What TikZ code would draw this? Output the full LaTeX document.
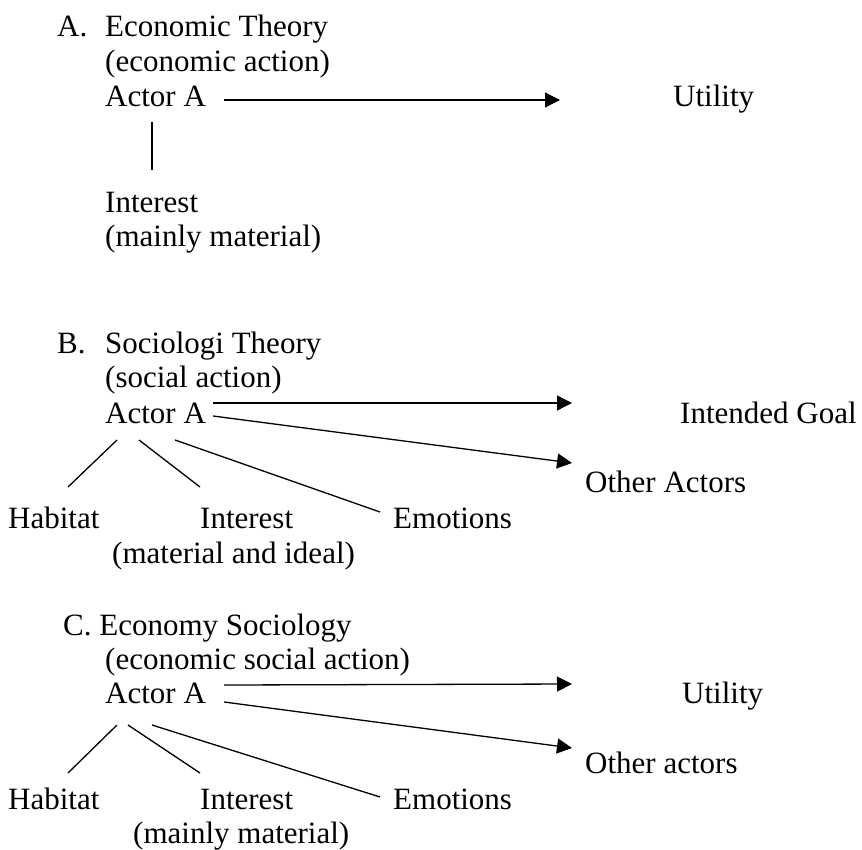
\documentclass[tikz,border=0pt]{standalone}
\usepackage{fontspec}
\setmainfont{Liberation Serif}
\usetikzlibrary{arrows.meta}
\begin{document}
\begin{tikzpicture}[x=1pt,y=-1pt,
  txt/.style={inner sep=0pt,anchor=base west,font=\fontsize{31}{36}\selectfont},
  arr/.style={line width=1.3pt,-{Triangle[length=15pt,width=15pt]}},
  ln/.style={line width=1.3pt}]
\useasboundingbox (0,0) rectangle (862,849);
% ---------- A ----------
\node[txt] (hA) at (57,36) {A.};
\node[txt] (tA) at (105,36) {Economic Theory};
\node[txt] (sA) at (105,71) {(economic action)};
\node[txt] (actA) at (105,106) {Actor A};
\node[txt] (utA) at (673,106) {Utility};
\node[txt] (intA) at (105,212) {Interest};
\node[txt] (matA) at (105,246) {(mainly material)};
\coordinate (tipA) at (560,100);
\draw[arr] ([shift={(18,-6)}]actA.base east) -- (tipA);
\draw[ln] ([shift={(47,16)}]actA.base west) -- ([shift={(47,-42)}]intA.base west);
% ---------- B ----------
\node[txt] (hB) at (57,353) {B.};
\node[txt] (tB) at (105,353) {Sociologi Theory};
\node[txt] (sB) at (105,387) {(social action)};
\node[txt] (actB) at (105,423) {Actor A};
\node[txt] (goalB) at (680,423) {Intended Goal};
\node[txt] (othB) at (585,492) {Other Actors};
\node[txt] (habB) at (8,528) {Habitat};
\node[txt] (intB) at (200,528) {Interest};
\node[txt] (emoB) at (393,528) {Emotions};
\node[txt] (matB) at (112,563) {(material and ideal)};
\coordinate (tipB1) at (572,403);
\coordinate (tipB2) at (572,463);
\draw[arr] ([shift={(7,-20)}]actB.base east) -- (tipB1);
\draw[arr] ([shift={(7,-7)}]actB.base east) -- (tipB2);
\draw[ln] ([shift={(12,17)}]actB.base west) -- ([shift={(60,-41)}]habB.base west);
\draw[ln] ([shift={(34,17)}]actB.base west) -- ([shift={(0,-41)}]intB.base west);
\draw[ln] ([shift={(70,17)}]actB.base west) -- ([shift={(-13,-16)}]emoB.base west);
% ---------- C ----------
\node[txt] (hC) at (63,635) {C. Economy Sociology};
\node[txt] (sC) at (105,669) {(economic social action)};
\node[txt] (actC) at (105,703) {Actor A};
\node[txt] (utC) at (682,703) {Utility};
\node[txt] (othC) at (585,773) {Other actors};
\node[txt] (habC) at (8,809) {Habitat};
\node[txt] (intC) at (200,809) {Interest};
\node[txt] (emoC) at (393,809) {Emotions};
\node[txt] (matC) at (133,843) {(mainly material)};
\coordinate (tipC1) at (572,684);
\coordinate (tipC2) at (572,748);
\draw[arr] ([shift={(18,-18)}]actC.base east) -- (tipC1);
\draw[arr] ([shift={(18,-1)}]actC.base east) -- (tipC2);
\draw[ln] ([shift={(12,22)}]actC.base west) -- ([shift={(60,-36)}]habC.base west);
\draw[ln] ([shift={(23,22)}]actC.base west) -- ([shift={(0,-36)}]intC.base west);
\draw[ln] ([shift={(47,22)}]actC.base west) -- ([shift={(-13,-12)}]emoC.base west);
\end{tikzpicture}
\end{document}
